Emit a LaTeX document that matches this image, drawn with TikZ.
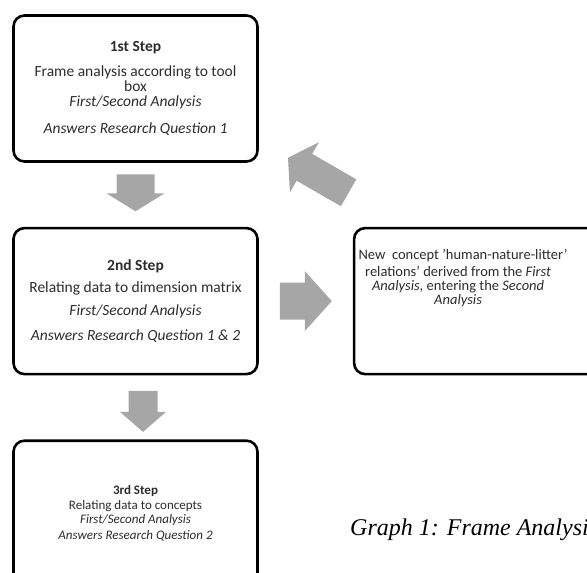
\documentclass[tikz,border=0pt]{standalone}
\usepackage{fontspec}
\setmainfont{Carlito}
\newfontfamily\captionfont{Liberation Serif}
\usepackage{xcolor}
\usepackage{tikz}
\usetikzlibrary{positioning,calc}
\definecolor{arrowgray}{RGB}{166,166,166}
\definecolor{boxtext}{RGB}{45,45,45}
% grey block arrow: centre, angle, length, shaft width, head width, head length (pt)
\newcommand{\blockarrow}[6]{%
  \fill[arrowgray,shift={(#1)},rotate=#2,x=1pt,y=1pt]
    ({-#3/2},{-#4/2}) -- ({#3/2-#6},{-#4/2}) -- ({#3/2-#6},{-#5/2}) -- ({#3/2},0)
    -- ({#3/2-#6},{#5/2}) -- ({#3/2-#6},{#4/2}) -- ({-#3/2},{#4/2}) -- cycle;}

\begin{document}
\begin{tikzpicture}[
node distance=64pt and 94pt,
stepbox/.style={draw,line width=2.6pt,rounded corners=11pt,minimum width=244pt,minimum height=146pt,align=center,text=boxtext,fill=white},
bigtext/.style={font=\fontsize{15.5}{15}\selectfont},
smalltext/.style={font=\fontsize{13}{13}\selectfont},
captiontext/.style={font=\captionfont\itshape\fontsize{24}{28}\selectfont,anchor=base west,inner sep=0pt}
]
\useasboundingbox (0,0) rectangle (587pt,-573pt);
\node[stepbox,bigtext] (step1) at (135.5pt,-88.5pt) {\textbf{1st Step}\\[10pt]
  Frame analysis according to tool\\ box\\ \textit{First/Second Analysis}\\[12pt]
  \textit{Answers Research Question 1}};
\node[stepbox,bigtext,below=of step1] (step2) {\textbf{2nd Step}\\[7pt]
  Relating data to dimension matrix\\[8pt] \textit{First/Second Analysis}\\[10pt]
  \textit{Answers Research Question 1 \& 2}};
\node[stepbox,smalltext,below=of step2] (step3) {\textbf{3rd Step}\\[2pt]
  Relating data to concepts\\[1pt] \textit{First/Second Analysis}\\[3pt]
  \textit{Answers Research Question 2}};
\node[stepbox,minimum width=248pt,right=of step2] (concept) {};
\node[font=\fontsize{14.5}{14}\selectfont,align=center,text=boxtext] (concepttext) at ([xshift=-20pt,yshift=23pt]concept.center)
  {\makebox[199pt][l]{New\ \ concept 'human-nature-litter'}\\[3pt]
  relations' derived from the \textit{First}\\ \textit{Analysis,} entering the \textit{Second}\\
  \textit{Analysis}};
% block arrows between the steps
\coordinate (down1) at ($(step1.south)!0.5!(step2.north)+(0,2pt)$);
\coordinate (down2) at ($(step2.south)!0.5!(step3.north)+(7.5pt,-4pt)$);
\coordinate (right1) at ($(step2.east)!0.5!(concept.west)$);
\coordinate (back1) at ($(step2.north east)+(59.5pt,51.5pt)$);
\blockarrow{down1}{-90}{37}{38}{58}{18}
\blockarrow{down2}{-90}{41}{29}{46}{20}
\blockarrow{right1}{0}{52}{37}{60}{27}
\blockarrow{back1}{150}{70}{31}{58}{19}
\node[captiontext] (caption) at (350pt,-535pt) {Graph 1: Frame Analysis};
\end{tikzpicture}
\end{document}
